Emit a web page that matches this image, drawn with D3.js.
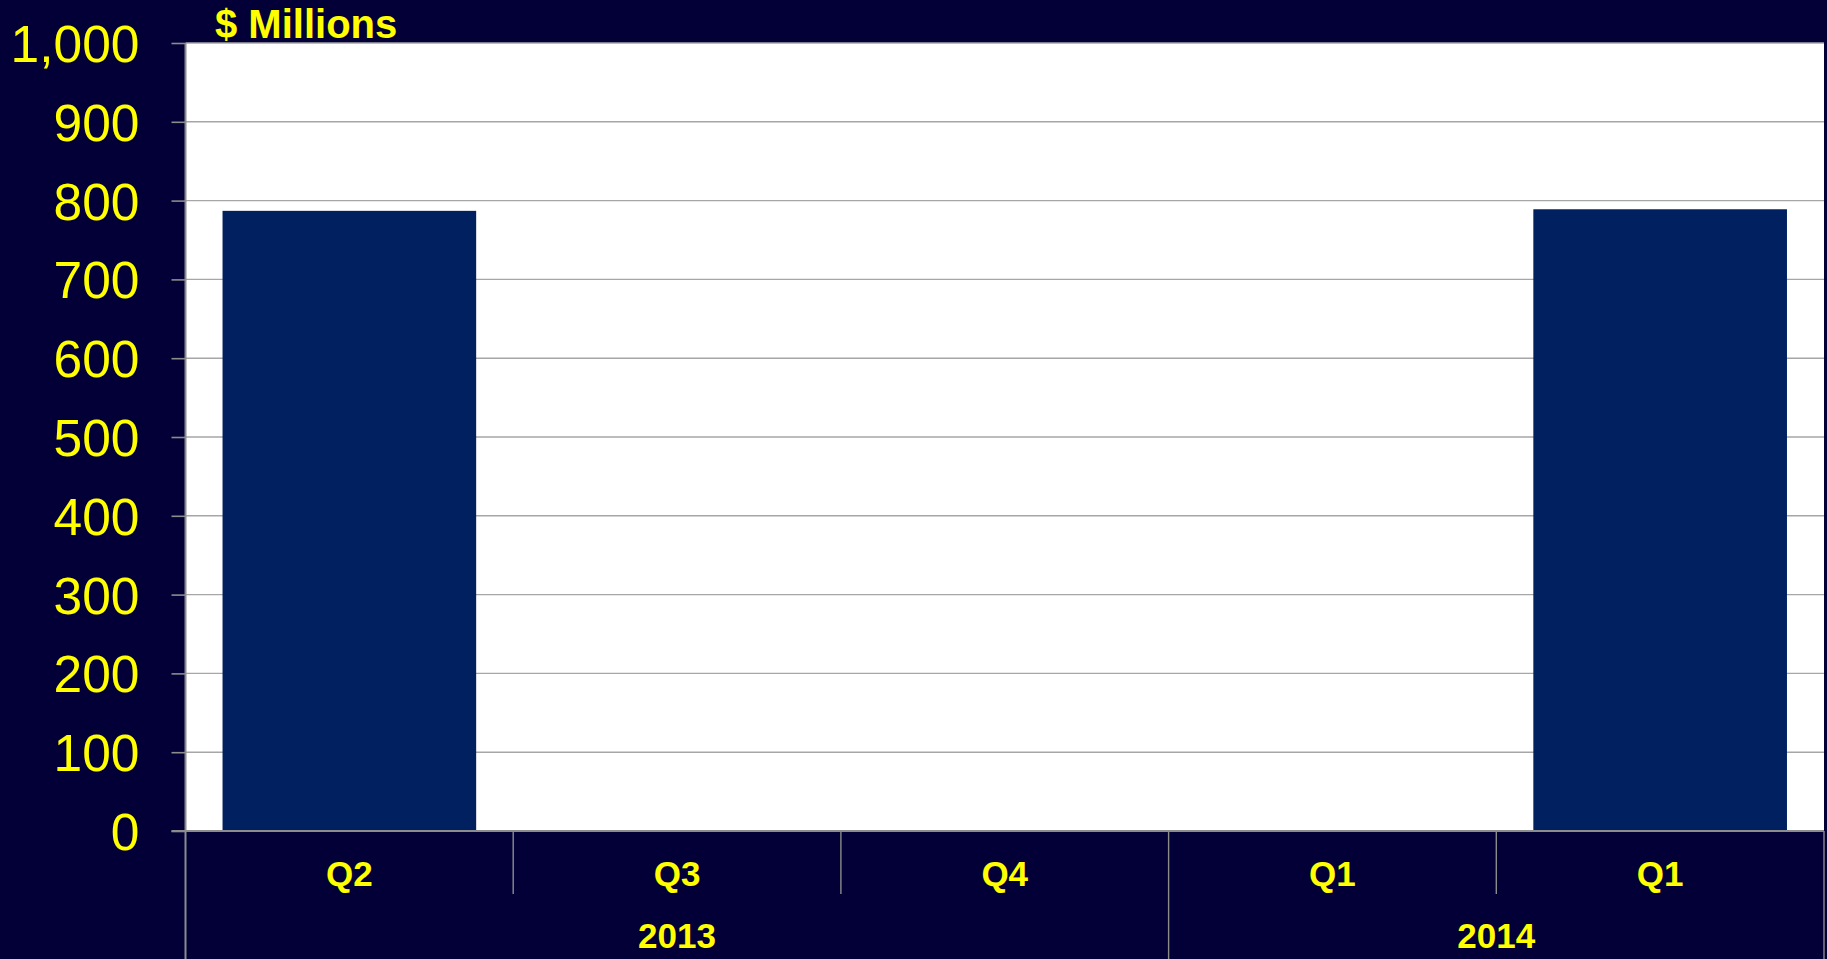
<!DOCTYPE html>
<html>
<head>
<meta charset="utf-8">
<script src="https://cdn.jsdelivr.net/npm/d3@7"></script>
<style>
  html, body { margin: 0; padding: 0; background: #030038; }
  svg { display: block; }
</style>
</head>
<body>
<svg id="chart" width="1827" height="959"></svg>
<script>
// Quarterly figures, $ millions
const quarters = ["Q2", "Q3", "Q4", "Q1", "Q1"];
const years = ["2013", "2013", "2013", "2014", "2014"];
const values = [787, null, null, null, 789];
const yTicks = [0, 100, 200, 300, 400, 500, 600, 700, 800, 900, 1000];
const yLabel = "$ Millions";

const W = 1827, H = 959;
const margin = { left: 185.5, top: 43, right: 3, bottom: 128 };
const plotW = W - margin.left - margin.right;
const plotH = H - margin.top - margin.bottom;

const FONT = "'Liberation Sans', Arial, sans-serif";
const YELLOW = "#ffff00";
const GRID = "#a6a6a6";
const AXIS = "#8c8c8c";

const svg = d3.select("#chart");
const g = svg.append("g").attr("transform", `translate(${margin.left},${margin.top})`);

const x = d3.scaleBand()
  .domain(d3.range(quarters.length))
  .range([0, plotW])
  .paddingInner(0.226)
  .paddingOuter(0.113);

const y = d3.scaleLinear().domain([0, 1000]).range([plotH, 0]);

// plot area
g.append("rect")
  .attr("x", 0).attr("y", 0)
  .attr("width", plotW).attr("height", plotH)
  .attr("fill", "#ffffff");

// horizontal gridlines
g.selectAll("line.grid")
  .data(yTicks.filter(d => d > 0))
  .join("line")
  .attr("class", "grid")
  .attr("x1", 0).attr("x2", plotW)
  .attr("y1", d => y(d)).attr("y2", d => y(d))
  .attr("stroke", GRID).attr("stroke-width", 1.4);

// bars
const rows = values.map((v, i) => ({ i, v })).filter(d => d.v != null);
g.selectAll("rect.bar")
  .data(rows)
  .join("rect")
  .attr("class", "bar")
  .attr("x", d => x(d.i))
  .attr("width", x.bandwidth())
  .attr("y", d => y(d.v))
  .attr("height", d => y(0) - y(d.v))
  .attr("fill", "#00205f");

// y axis
const yAxis = g.append("g")
  .call(d3.axisLeft(y)
    .tickValues(yTicks)
    .tickFormat(d3.format(","))
    .tickSize(14)
    .tickPadding(32));
yAxis.select(".domain").remove();
yAxis.selectAll(".tick line").attr("stroke", AXIS).attr("stroke-width", 1.6);
yAxis.selectAll(".tick text")
  .attr("fill", YELLOW)
  .attr("font-family", FONT)
  .attr("font-size", 51.5)
  .attr("dy", "0.36em");

// vertical axis line, running down through the category rows
g.append("line")
  .attr("x1", 0).attr("x2", 0)
  .attr("y1", 0).attr("y2", H - margin.top)
  .attr("stroke", AXIS).attr("stroke-width", 2);

// horizontal axis line
g.append("line")
  .attr("x1", -14).attr("x2", plotW)
  .attr("y1", plotH).attr("y2", plotH)
  .attr("stroke", AXIS).attr("stroke-width", 2);

// category separators: short between quarters, long at year boundaries
const step = x.step();
const bounds = d3.range(1, quarters.length + 1).map(k => ({
  k,
  long: k === quarters.length || years[k] !== years[k - 1]
}));
g.selectAll("line.sep")
  .data(bounds)
  .join("line")
  .attr("class", "sep")
  .attr("x1", d => d.k * step).attr("x2", d => d.k * step)
  .attr("y1", plotH)
  .attr("y2", d => d.long ? H - margin.top : plotH + 63)
  .attr("stroke", AXIS).attr("stroke-width", 1.4);

// quarter labels
g.selectAll("text.q")
  .data(quarters)
  .join("text")
  .attr("class", "q")
  .attr("x", (d, i) => x(i) + x.bandwidth() / 2)
  .attr("y", plotH + 55)
  .attr("text-anchor", "middle")
  .attr("fill", YELLOW)
  .attr("font-family", FONT)
  .attr("font-weight", "bold")
  .attr("font-size", 35)
  .text(d => d);

// year group labels
const groups = d3.groups(years.map((yr, i) => ({ yr, i })), d => d.yr)
  .map(([yr, items]) => ({ yr, first: items[0].i, last: items[items.length - 1].i }));
g.selectAll("text.yr")
  .data(groups)
  .join("text")
  .attr("class", "yr")
  .attr("x", d => (d.first + d.last + 1) / 2 * step)
  .attr("y", plotH + 117)
  .attr("text-anchor", "middle")
  .attr("fill", YELLOW)
  .attr("font-family", FONT)
  .attr("font-weight", "bold")
  .attr("font-size", 35)
  .text(d => d.yr);

// unit title
svg.append("text")
  .attr("x", 215)
  .attr("y", 38)
  .attr("fill", YELLOW)
  .attr("font-family", FONT)
  .attr("font-weight", "bold")
  .attr("font-size", 40)
  .text(yLabel);
</script>
</body>
</html>
